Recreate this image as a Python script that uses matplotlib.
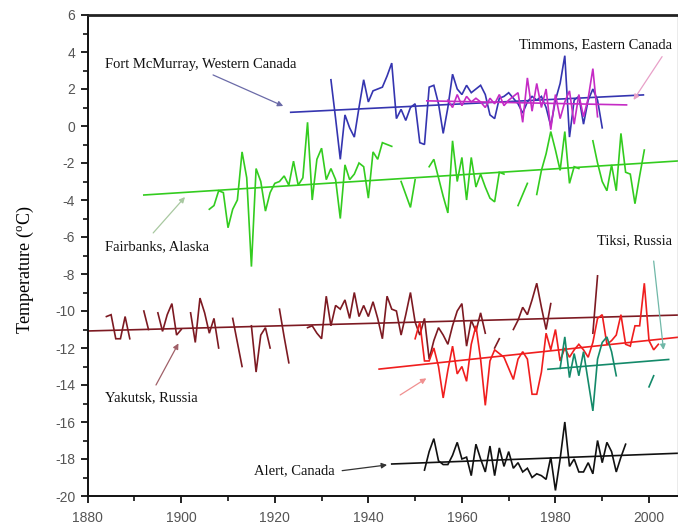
import numpy as np
import matplotlib
matplotlib.use("Agg")
import matplotlib.pyplot as plt

nan = np.nan

# ---- station series (annual mean temperature, deg C) ----
mcmurray_years = list(range(1932, 1991))
mcmurray_vals = [2.5, 0.4, -1.8, 0.6, -0.1, -0.6, 1.0, 2.5, 1.3, 1.9,
                 2.0, 2.1, 2.7, 3.4, 0.4, 0.9, 0.3, 1.0, 1.2, -0.9,
                 -1.0, 2.1, 2.2, 1.2, -0.4, 1.0, 2.8, 2.0, 1.7, 2.2,
                 1.8, 2.0, 2.2, 1.7, 0.6, 0.4, 1.5, 1.6, 1.8, 1.5,
                 1.2, 0.7, 1.3, 1.6, 1.4, 1.6, 1.0, 0.0, 1.4, 2.3,
                 3.8, -0.6, 1.4, 1.6, 0.1, 1.4, 2.0, 1.4, -0.1]

timmons_years = list(range(1957, 1990))
timmons_vals = [1.4, 1.0, 1.7, 1.1, 1.6, 1.3, 1.5, 1.3, 1.0, 1.5,
                1.2, 1.7, 1.1, 1.4, 1.6, 1.8, 0.2, 2.6, 0.8, 2.3,
                1.0, 2.0, -0.2, 1.7, 0.4, 1.3, 1.9, 0.1, 1.7, 0.5,
                1.5, 3.1, 0.5]

fairbanks_years = list(range(1906, 2000))
fairbanks_vals = [-4.5, -4.3, -3.5, -3.6, -5.5, -4.5, -4.0, -1.4, -2.8, -7.6,   # 1906-1915
                  -2.3, -3.0, -4.6, -3.6, -3.1, -3.0, -2.7, -3.2, -1.9, -3.2,   # 1916-1925
                  -2.8, 0.2, -4.0, -1.8, -1.2, -2.9, -2.3, -2.9, -5.0, -2.1,    # 1926-1935
                  -2.9, -2.6, -2.0, -2.2, -3.9, -1.4, -1.8, -0.9, -1.0, -1.1,   # 1936-1945
                  nan, -3.0, -3.7, -4.4, -2.9, nan, nan, -2.2, -1.8, -2.8,      # 1946-1955
                  -3.8, -4.7, -0.8, -3.0, -1.7, -4.0, -1.7, -3.3, -2.6, -3.3,   # 1956-1965
                  -3.9, -4.1, -2.5, -2.6, nan, nan, -4.3, -3.7, -3.1, nan,      # 1966-1975
                  -3.7, -2.4, -1.5, -0.3, -1.3, -2.4, -0.3, -3.1, -2.2, -2.3,   # 1976-1985
                  nan, nan, -0.8, -2.0, -3.0, -3.5, -2.1, -3.5, -0.4, -2.5,     # 1986-1995
                  -2.6, -4.2, -2.7, -1.3]                                       # 1996-1999

yakutsk_years = list(range(1884, 1990))
yakutsk_vals = [-10.3, -10.2, -11.5, -11.5, -10.3, -11.5, nan, nan, -10.0, -11.0,   # 1884-1893
                nan, -10.1, -11.1, -10.2, -9.6, -11.3, -11.0, nan, -10.1, -11.7,    # 1894-1903
                -9.3, -10.1, -11.2, -10.4, -12.0, nan, nan, -10.4, -11.7, -13.0,    # 1904-1913
                nan, -10.8, -13.3, -11.3, -10.9, -12.0, nan, -9.9, -11.4, -12.8,    # 1914-1923
                nan, nan, nan, -10.9, -10.8, -11.2, -11.5, -9.2, -10.8, -9.7,       # 1924-1933
                -9.9, -9.4, -10.4, -9.0, -10.3, -9.7, -10.3, -9.5, -10.4, -11.5,    # 1934-1943
                -9.2, -9.9, -10.0, -11.3, -10.2, -9.0, -10.6, -11.3, -10.4, -12.6,  # 1944-1953
                -11.6, -10.9, -11.3, -11.8, -10.8, -10.0, -9.6, -11.9, -10.5, -11.1,  # 1954-1963
                -10.1, -11.2, nan, -12.0, -11.5, nan, nan, -11.0, -10.5, -9.8,      # 1964-1973
                -10.2, -9.4, -8.5, -9.8, -11.0, -9.6, nan, nan, nan, nan,           # 1974-1983
                nan, nan, nan, nan, -11.2, -8.1]                                    # 1984-1989

red_years = list(range(1950, 2003))
red_vals = [-11.5, -10.6, -12.7, -12.7, -12.0, -13.0, -14.7, -13.2, -11.9, -13.4,
            -13.0, -13.8, -11.8, -10.8, -12.6, -15.1, -12.7, -12.1, -12.3, -12.5,
            -13.1, -13.7, -12.6, -12.2, -12.6, -14.5, -14.5, -13.3, -11.2, -12.1,
            -11.0, -12.7, -12.0, -12.5, -12.1, -11.8, -12.1, -12.5, -11.7, -10.4,
            -10.2, -11.8, -11.6, -11.3, -10.2, -11.8, -11.9, -10.8, -10.8, -8.5,
            -11.6, -12.1, -11.8]

tiksi_years = list(range(1981, 2002))
tiksi_vals = [-13.1, -11.4, -13.6, -12.3, -13.5, -12.2, -13.8, -15.4, -12.6, -11.7,
              -11.4, -12.2, -13.5, nan, nan, nan, nan, nan, nan, -14.1,
              -13.5]

alert_years = list(range(1952, 1996))
alert_vals = [-18.6, -17.6, -16.9, -18.1, -18.3, -18.3, -17.8, -17.1, -18.0, -17.9,
              -18.9, -17.2, -18.0, -18.7, -17.3, -18.9, -17.4, -18.4, -17.6, -18.5,
              -18.2, -18.7, -18.5, -19.0, -18.8, -18.9, -19.1, -17.9, -19.7, -18.0,
              -16.0, -18.4, -18.0, -18.7, -18.7, -18.2, -18.8, -17.0, -18.2, -17.1,
              -17.6, -18.7, -17.9, -17.2]

# ---- linear trend lines: (start year, start value, end year, end value) ----
mcmurray_trend = (1923.4, 0.74, 1998.8, 1.68)
timmons_trend = (1952.5, 1.36, 1995.2, 1.14)
fairbanks_trend = (1892.0, -3.73, 2006.2, -1.89)
yakutsk_trend = (1880.0, -11.08, 2006.2, -10.22)
red_trend = (1942.3, -13.14, 2006.2, -11.42)
tiksi_trend = (1978.4, -13.15, 2004.2, -12.62)
alert_trend = (1945.0, -18.27, 2006.2, -17.69)

# ---- colours ----
c_blue = "#3535b0"
c_mag = "#c52bc5"
c_green = "#33cc1f"
c_maroon = "#7d1a22"
c_red = "#f01e1e"
c_teal = "#148a6a"
c_black = "#111111"

plt.rcParams["mathtext.fontset"] = "custom"
plt.rcParams["mathtext.rm"] = "Liberation Serif"
plt.rcParams["axes.unicode_minus"] = False

fig = plt.figure(figsize=(6.78, 5.32), dpi=100)
ax = fig.add_axes([87.7 / 678, 36 / 532, (678 - 87.7) / 678, 481 / 532])

lw = 1.2
series = [
    (yakutsk_years, yakutsk_vals, yakutsk_trend, c_maroon),
    (fairbanks_years, fairbanks_vals, fairbanks_trend, c_green),
    (red_years, red_vals, red_trend, c_red),
    (tiksi_years, tiksi_vals, tiksi_trend, c_teal),
    (alert_years, alert_vals, alert_trend, c_black),
    (mcmurray_years, mcmurray_vals, mcmurray_trend, c_blue),
    (timmons_years, timmons_vals, timmons_trend, c_mag),
]
for yrs, vals, tr, col in series:
    ax.plot(yrs, np.array(vals, dtype=float), color=col, lw=lw, solid_joinstyle="miter")
    ax.plot([tr[0], tr[2]], [tr[1], tr[3]], color=col, lw=lw)

# ---- station labels with pointer arrows ----
serif = "Liberation Serif"
fs = 10.5


def label(text, xy_text, xy_tip, tail, color, ha="left"):
    ax.text(xy_text[0], xy_text[1], text, fontsize=fs, family=serif,
            ha=ha, va="center", color="#111111")
    ax.annotate("", xy=xy_tip, xytext=tail,
                arrowprops=dict(arrowstyle="-|>", color=color, lw=0.9,
                                mutation_scale=8, shrinkA=0, shrinkB=0))


label("Fort McMurray, Western Canada", (1883.7, 3.35), (1921.8, 1.08), (1906.8, 2.76), "#6b6ba8")
label("Timmons, Eastern Canada", (2004.9, 4.38), (1996.7, 1.41), (2002.8, 3.75), "#e8a0c8", ha="right")
label("Fairbanks, Alaska", (1883.7, -6.54), (1900.8, -3.84), (1894.0, -5.78), "#a8c8a0")
label("Tiksi, Russia", (2004.9, -6.22), (2003.1, -12.1), (2001.0, -7.3), "#70b8a8", ha="right")
label("Yakutsk, Russia", (1883.7, -14.7), (1899.4, -11.75), (1894.6, -14.0), "#a06068")
label("Alert, Canada", (1915.6, -18.65), (1944.0, -18.32), (1934.4, -18.63), "#333333")
ax.annotate("", xy=(1952.4, -13.64), xytext=(1946.8, -14.54),
            arrowprops=dict(arrowstyle="-|>", color="#f09090", lw=0.9,
                            mutation_scale=8, shrinkA=0, shrinkB=0))

# ---- axes ----
ax.set_xlim(1880, 2006.2)
ax.set_ylim(-20, 6)
ax.set_xticks(range(1880, 2001, 20))
ax.set_xticks(range(1890, 2006, 10), minor=True)
ax.set_yticks(range(-20, 7, 2))
ax.set_yticks(range(-19, 6, 2), minor=True)
ax.tick_params(which="major", direction="out", length=5, width=1.3, color="#111111",
               labelsize=10, labelcolor="#555555", pad=4)
ax.tick_params(which="minor", direction="out", length=3.5, width=1.2, color="#111111")
ax.tick_params(axis="x", pad=6)
for lab in ax.get_xticklabels() + ax.get_yticklabels():
    lab.set_family("Liberation Sans")

for side in ("left", "bottom"):
    ax.spines[side].set_linewidth(1.4)
    ax.spines[side].set_color("#111111")
ax.spines["top"].set_linewidth(2.0)
ax.spines["top"].set_color("#222222")
ax.spines["right"].set_linewidth(1.0)
ax.spines["right"].set_color("#999999")

ax.set_ylabel(r"Temperature ($\mathregular{^{o}}$C)", fontsize=13, family=serif)
ax.yaxis.set_label_coords(-0.088, 0.47)

fig.savefig("out.png", dpi=100)
